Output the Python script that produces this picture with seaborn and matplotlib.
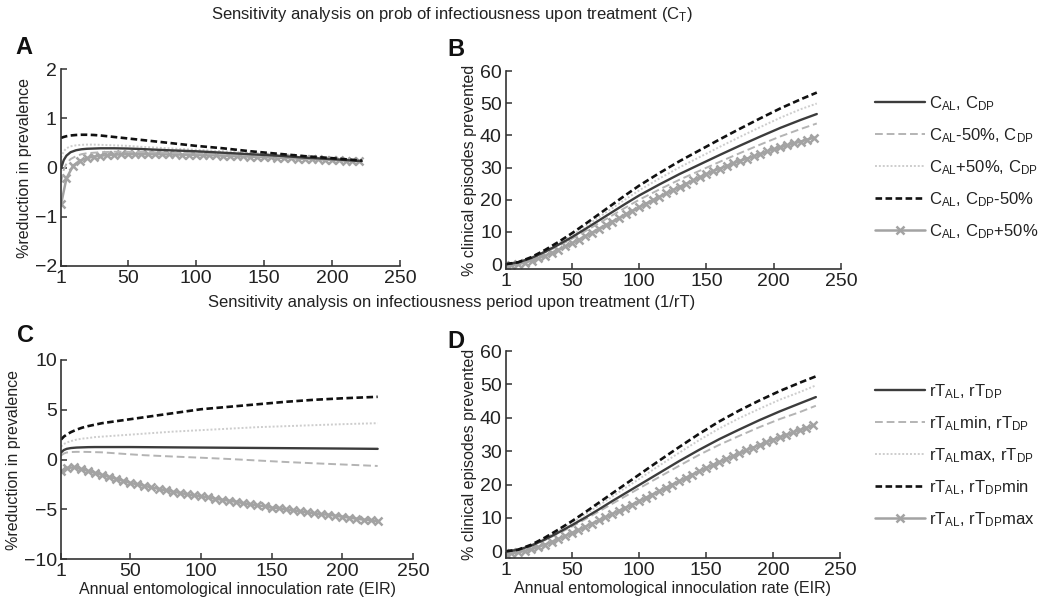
import matplotlib
matplotlib.use("Agg")
import matplotlib.pyplot as plt
import seaborn as sns

# ---------------- data ----------------
# coarse EIR grids for the smooth curves
EIR_A = [1, 3, 5, 8, 12, 16, 20, 25, 30, 40, 50, 60, 80, 100, 120, 140, 160, 180, 200, 222]
EIR_C = [1, 3, 5, 8, 12, 16, 20, 25, 30, 40, 50, 60, 80, 100, 120, 140, 160, 180, 200, 225]
EIR_BD = [1, 10, 20, 30, 40, 50, 60, 70, 80, 90, 100, 115, 130, 145, 160, 175, 190, 205, 220, 232]
# fine EIR grid for the marker series
EIR_FINE = [1, 5, 10, 15, 20, 25, 30, 35, 40, 45, 50, 55, 60, 65, 70, 75, 80, 85, 90, 95,
            100, 105, 110, 115, 120, 125, 130, 135, 140, 145, 150, 155, 160, 165, 170, 175,
            180, 185, 190, 195, 200, 205, 210, 215, 220, 225, 230]

# Panel A: % reduction in prevalence (C_T sensitivity)
A_base = [-0.02, 0.15, 0.24, 0.31, 0.35, 0.37, 0.38, 0.385, 0.39, 0.39, 0.385, 0.375, 0.35, 0.33, 0.30, 0.27, 0.24, 0.20, 0.17, 0.13]
A_al_lo = [-0.30, -0.05, 0.08, 0.17, 0.23, 0.27, 0.29, 0.30, 0.31, 0.32, 0.32, 0.315, 0.30, 0.29, 0.27, 0.25, 0.22, 0.19, 0.16, 0.12]
A_al_hi = [0.20, 0.33, 0.39, 0.43, 0.45, 0.46, 0.465, 0.465, 0.46, 0.45, 0.44, 0.42, 0.39, 0.36, 0.33, 0.30, 0.26, 0.22, 0.18, 0.13]
A_dp_lo = [0.60, 0.62, 0.635, 0.65, 0.66, 0.665, 0.665, 0.66, 0.65, 0.62, 0.59, 0.56, 0.50, 0.44, 0.39, 0.33, 0.28, 0.23, 0.19, 0.14]
A_dp_hi = [-0.75, -0.22, 0.04, 0.14, 0.19, 0.22, 0.24, 0.25, 0.26, 0.265, 0.27, 0.27, 0.27, 0.27, 0.27,
           0.27, 0.265, 0.265, 0.26, 0.26, 0.255, 0.25, 0.25, 0.245, 0.24, 0.235, 0.23, 0.225, 0.22,
           0.215, 0.21, 0.205, 0.20, 0.195, 0.19, 0.18, 0.175, 0.17, 0.165, 0.16, 0.155, 0.145,
           0.14, 0.13, 0.125]

# Panel B: % clinical episodes prevented (C_T sensitivity)
B_base = [0, 0.53, 1.93, 3.85, 6.04, 8.4, 10.94, 13.56, 16.19, 18.81, 21.35, 24.76, 28.0, 30.98, 33.95, 36.84, 39.64, 42.35, 44.8, 46.64]
B_al_lo = [0, 0.49, 1.8, 3.61, 5.66, 7.87, 10.25, 12.71, 15.17, 17.63, 20.01, 23.21, 26.24, 29.03, 31.82, 34.52, 37.15, 39.69, 41.98, 43.7]
B_al_hi = [0, 0.56, 2.07, 4.14, 6.49, 9.02, 11.75, 14.57, 17.39, 20.21, 22.94, 26.6, 30.08, 33.28, 36.47, 39.57, 42.58, 45.5, 48.13, 49.9]
B_dp_lo = [0, 0.6, 2.2, 4.4, 6.9, 9.6, 12.5, 15.5, 18.5, 21.5, 24.4, 28.3, 32.0, 35.4, 38.8, 42.1, 45.3, 48.4, 51.2, 53.3]
B_dp_hi = [-0.5, -0.4, 0.0, 0.5, 1.1, 1.8, 2.6, 3.5, 4.5, 5.5, 6.5, 7.6, 8.7, 9.8, 11.0, 12.1,
           13.2, 14.3, 15.5, 16.6, 17.7, 18.8, 19.9, 20.9, 22.0, 23.0, 24.0, 25.0, 26.0, 27.0,
           28.0, 28.9, 29.7, 30.5, 31.3, 32.1, 32.8, 33.5, 34.2, 35.0, 35.7, 36.3, 36.9, 37.5,
           38.1, 38.7, 39.3]

# Panel C: % reduction in prevalence (1/rT sensitivity)
C_base = [0.70, 0.95, 1.07, 1.15, 1.20, 1.22, 1.24, 1.25, 1.25, 1.25, 1.25, 1.24, 1.22, 1.20, 1.18, 1.16, 1.14, 1.12, 1.10, 1.07]
C_al_lo = [0.40, 0.60, 0.70, 0.75, 0.77, 0.77, 0.76, 0.74, 0.72, 0.62, 0.52, 0.43, 0.30, 0.18, 0.05, -0.10, -0.25, -0.38, -0.50, -0.65]
C_al_hi = [1.30, 1.55, 1.70, 1.85, 2.00, 2.10, 2.15, 2.25, 2.30, 2.40, 2.50, 2.60, 2.80, 2.95, 3.10, 3.25, 3.35, 3.45, 3.55, 3.65]
C_dp_lo = [2.00, 2.30, 2.50, 2.75, 3.00, 3.20, 3.35, 3.50, 3.65, 3.85, 4.05, 4.25, 4.65, 5.05, 5.30, 5.55, 5.80, 6.00, 6.15, 6.30]
C_dp_hi = [-1.2, -0.85, -0.8, -0.95, -1.15, -1.35, -1.55, -1.75, -1.95, -2.15, -2.35, -2.5, -2.65,
           -2.8, -2.95, -3.1, -3.25, -3.35, -3.5, -3.6, -3.7, -3.8, -3.95, -4.05, -4.15, -4.25,
           -4.4, -4.5, -4.6, -4.7, -4.85, -4.9, -5.0, -5.1, -5.2, -5.3, -5.4, -5.5, -5.55, -5.65,
           -5.75, -5.85, -5.95, -6.05, -6.1, -6.2]

# Panel D: % clinical episodes prevented (1/rT sensitivity)
D_base = [0, 0.43, 1.73, 3.55, 5.62, 7.8, 10.1, 12.5, 15.0, 17.4, 19.8, 23.4, 27.0, 30.4, 33.6, 36.5, 39.3, 41.9, 44.3, 46.2]
D_al_lo = [0, 0.41, 1.64, 3.36, 5.33, 7.38, 9.6, 11.9, 14.2, 16.5, 18.8, 22.2, 25.6, 28.9, 31.9, 34.6, 37.2, 39.6, 41.7, 43.6]
D_al_hi = [0, 0.47, 1.89, 3.87, 6.14, 8.5, 11.06, 13.7, 16.35, 19.0, 21.6, 25.6, 29.5, 33.3, 36.8, 39.9, 42.7, 45.4, 47.7, 49.7]
D_dp_lo = [0, 0.5, 2.0, 4.1, 6.5, 9.0, 11.7, 14.5, 17.3, 20.1, 22.9, 27.1, 31.2, 35.2, 38.9, 42.2, 45.2, 48.0, 50.5, 52.4]
D_dp_hi = [-0.7, -0.6, -0.3, 0.1, 0.6, 1.3, 2.0, 2.8, 3.7, 4.6, 5.5, 6.4, 7.35, 8.3, 9.25, 10.2,
           11.15, 12.1, 13.05, 14.0, 15.0, 16.0, 17.0, 18.0, 19.0, 20.0, 21.0, 22.0, 23.0, 24.0,
           24.95, 25.85, 26.75, 27.65, 28.5, 29.35, 30.2, 31.05, 31.85, 32.65, 33.4, 34.15, 34.9,
           35.6, 36.3, 37.0, 37.7]

X_TICKS = [1, 50, 100, 150, 200, 250]
LABELS_CT = [r"C$_{AL}$, C$_{DP}$", r"C$_{AL}$-50%, C$_{DP}$", r"C$_{AL}$+50%, C$_{DP}$",
             r"C$_{AL}$, C$_{DP}$-50%", r"C$_{AL}$, C$_{DP}$+50%"]
LABELS_RT = [r"rT$_{AL}$, rT$_{DP}$", r"rT$_{AL}$min, rT$_{DP}$", r"rT$_{AL}$max, rT$_{DP}$",
             r"rT$_{AL}$, rT$_{DP}$min", r"rT$_{AL}$, rT$_{DP}$max"]
TITLE_TOP = r"Sensitivity analysis on prob of infectiousness upon treatment (C$_{T}$)"
TITLE_MID = "Sensitivity analysis on infectiousness period upon treatment (1/rT)"
XLABEL = "Annual entomological innoculation rate (EIR)"
YLABEL_PREV = "%reduction in prevalence"
YLABEL_CLIN = "% clinical episodes prevented"

# ---------------- style ----------------
sns.set_theme(style="ticks")
plt.rcParams["font.family"] = ["Liberation Sans", "DejaVu Sans"]
plt.rcParams["mathtext.fontset"] = "custom"
plt.rcParams["mathtext.rm"] = "Liberation Sans"
plt.rcParams["mathtext.it"] = "Liberation Sans:italic"
plt.rcParams["mathtext.default"] = "regular"

TXT = "#222222"
MK_COL = "#a3a3a3"
STYLES = [
    dict(color="#3c3c3c", linestyle="-", linewidth=1.7),                 # base
    dict(color="#b4b4b4", linestyle=(0, (4, 2)), linewidth=1.4),         # AL -50% / min
    dict(color="#cdcdcd", linestyle=(0, (1, 1)), linewidth=1.4),         # AL +50% / max
    dict(color="#111111", linestyle=(0, (2.5, 1.3)), linewidth=1.9),     # DP -50% / min
    dict(color=MK_COL, linestyle="-", linewidth=1.8, marker="x",
         markersize=6, markeredgewidth=1.8, markeredgecolor=MK_COL,
         markerfacecolor=MK_COL),                                          # DP +50% / max
]

fig = plt.figure(figsize=(10.4, 6.06), dpi=100)
W, H = 1040.0, 606.0


def add_ax(l, t, r, b):
    return fig.add_axes([l / W, 1 - b / H, (r - l) / W, (b - t) / H])


axA = add_ax(61, 69, 400, 266)
axB = add_ax(506, 71, 841, 269)
axC = add_ax(61, 360, 413, 559)
axD = add_ax(506, 351, 840, 558)


def draw(ax, xc, coarse, fine_vals, ylim, yticks, ylabel, xlabel=None):
    order = [4, 2, 1, 0, 3]
    for i in order:
        st = dict(STYLES[i])
        if i == 4:
            xs = EIR_FINE[:len(fine_vals)]
            ys = fine_vals
        else:
            xs = xc
            ys = coarse[i]
        sns.lineplot(x=xs, y=ys, ax=ax, legend=False, sort=False, **st)
    hmap = dict(zip(order, ax.get_lines()))
    ax.set_xlim(1, 250)
    ax.set_ylim(*ylim)
    ax.set_xticks(X_TICKS)
    ax.set_yticks(yticks)
    ax.tick_params(direction="in", length=4, width=1.1, labelsize=14,
                   colors="#333333", labelcolor=TXT, pad=3)
    for s in ["top", "right"]:
        ax.spines[s].set_visible(False)
    for s in ["left", "bottom"]:
        ax.spines[s].set_color("#333333")
        ax.spines[s].set_linewidth(1.2)
    ax.set_ylabel(ylabel, fontsize=11.5, color=TXT, labelpad=2)
    ax.set_xlabel(xlabel if xlabel else "", fontsize=11.5, color=TXT, labelpad=1)
    return [hmap[i] for i in range(5)]


hA = draw(axA, EIR_A, [A_base, A_al_lo, A_al_hi, A_dp_lo], A_dp_hi, (-2, 2), [-2, -1, 0, 1, 2], YLABEL_PREV)
hB = draw(axB, EIR_BD, [B_base, B_al_lo, B_al_hi, B_dp_lo], B_dp_hi, (-1.5, 60), [0, 10, 20, 30, 40, 50, 60], YLABEL_CLIN)
hC = draw(axC, EIR_C, [C_base, C_al_lo, C_al_hi, C_dp_lo], C_dp_hi, (-10, 10), [-10, -5, 0, 5, 10], YLABEL_PREV, XLABEL)
hD = draw(axD, EIR_BD, [D_base, D_al_lo, D_al_hi, D_dp_lo], D_dp_hi, (-2, 60), [0, 10, 20, 30, 40, 50, 60], YLABEL_CLIN, XLABEL)

leg_kw = dict(loc="upper left", bbox_transform=fig.transFigure, frameon=False, fontsize=12,
              handlelength=3.0, handletextpad=0.25, labelspacing=0.8, borderpad=0,
              borderaxespad=0, numpoints=1, labelcolor=TXT)
axB.legend(hB, LABELS_CT, bbox_to_anchor=(875 / W, 1 - 94 / H), **leg_kw)
axD.legend(hD, LABELS_RT, bbox_to_anchor=(875 / W, 1 - 382 / H), **leg_kw)

fig.text(452 / W, 1 - 15 / H, TITLE_TOP, ha="center", va="center", fontsize=12, color=TXT)
fig.text(452 / W, 1 - 303 / H, TITLE_MID, ha="center", va="center", fontsize=12, color=TXT)
for lab, x, y in [("A", 24, 48), ("B", 456, 50), ("C", 25, 335), ("D", 456, 342)]:
    fig.text(x / W, 1 - y / H, lab, ha="center", va="center", fontsize=17,
             fontweight="bold", color="#111111")

fig.savefig("out.png", dpi=100)
